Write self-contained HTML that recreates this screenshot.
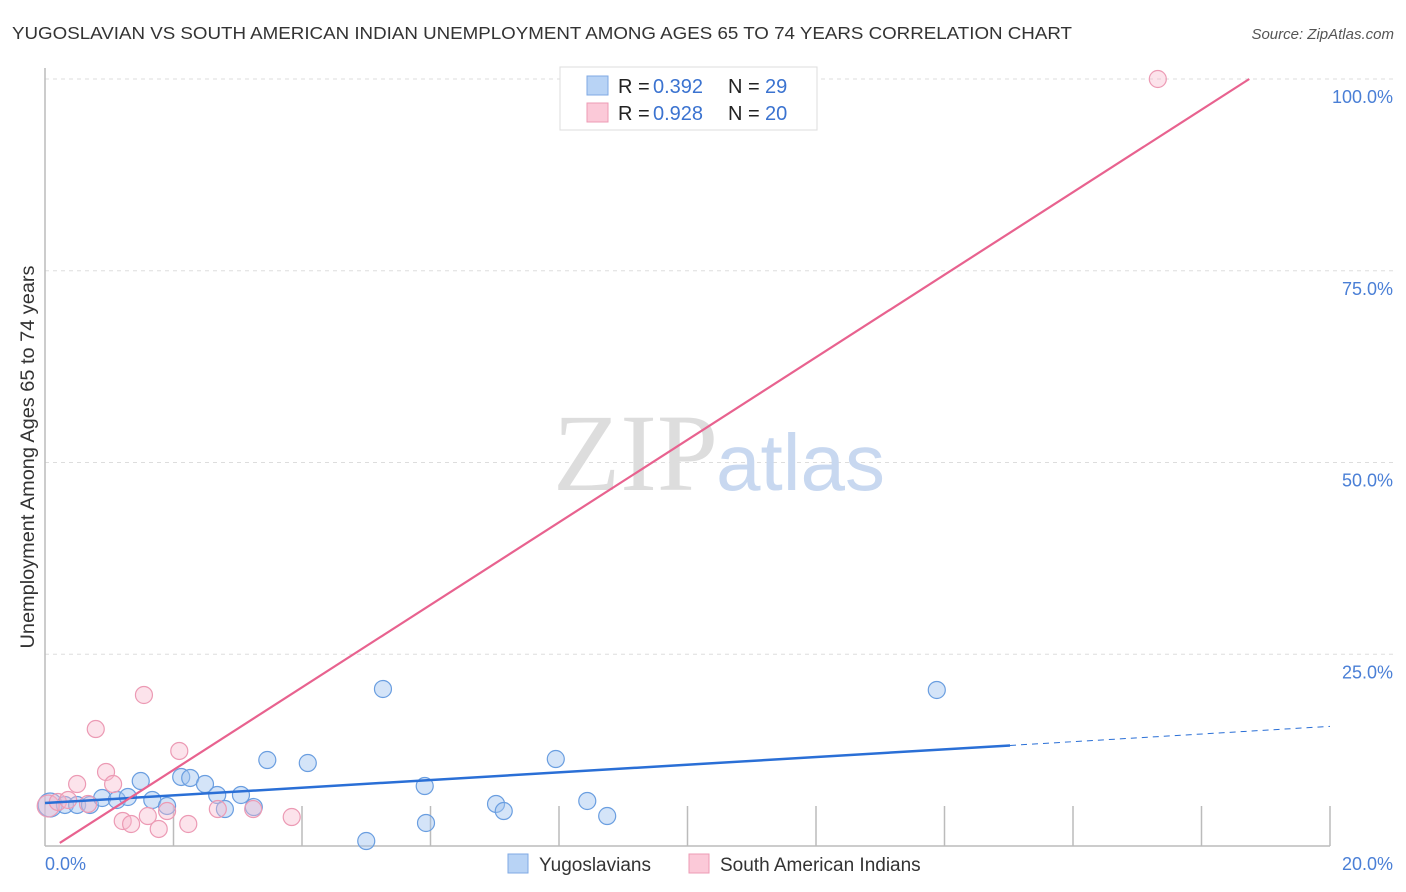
<!DOCTYPE html>
<html><head><meta charset="utf-8"><style>
body{margin:0;background:#fff;font-family:"Liberation Sans",sans-serif;}
svg{display:block}
</style></head><body>
<svg id="c" width="1406" height="892" xmlns="http://www.w3.org/2000/svg">
<text x="12" y="39" font-size="17.5" fill="#333" textLength="1060" lengthAdjust="spacingAndGlyphs">YUGOSLAVIAN VS SOUTH AMERICAN INDIAN UNEMPLOYMENT AMONG AGES 65 TO 74 YEARS CORRELATION CHART</text>
<text x="1394" y="39" font-size="15" fill="#555" font-style="italic" text-anchor="end">Source: ZipAtlas.com</text>
<g id="grid"></g>
<g>
<text x="553" y="490" font-family="Liberation Serif,serif" font-size="110" fill="#ddd">ZIP</text>
<text x="716" y="490" font-size="80" fill="#c8d8f0">atlas</text></g>
<text transform="translate(34,457) rotate(-90)" font-size="19" fill="#333" text-anchor="middle" textLength="383" lengthAdjust="spacingAndGlyphs">Unemployment Among Ages 65 to 74 years</text>
<g id="marks"></g>
<g>
<rect x="560" y="67" width="257" height="63" fill="#fff" stroke="#ddd"/>
<rect x="587" y="76" width="21" height="19" fill="#b8d3f5" stroke="#7fa9e4"/>
<rect x="587" y="103" width="21" height="19" fill="#fbc9d8" stroke="#ee9bb5"/>
<text x="618" y="93" font-size="20" fill="#222">R =</text><text x="653" y="93" font-size="20" fill="#3b73d0">0.392</text>
<text x="728" y="93" font-size="20" fill="#222">N =</text><text x="765" y="93" font-size="20" fill="#3b73d0">29</text>
<text x="618" y="120" font-size="20" fill="#222">R =</text><text x="653" y="120" font-size="20" fill="#3b73d0">0.928</text>
<text x="728" y="120" font-size="20" fill="#222">N =</text><text x="765" y="120" font-size="20" fill="#3b73d0">20</text>
</g>
<g>
<rect x="508" y="854" width="20" height="19" fill="#b8d3f5" stroke="#7fa9e4"/>
<text x="539" y="871" font-size="19" fill="#333">Yugoslavians</text>
<rect x="689" y="854" width="20" height="19" fill="#fbc9d8" stroke="#ee9bb5"/>
<text x="720" y="871" font-size="19" fill="#333">South American Indians</text>
</g>
</svg>
<script>
const yTicks=[25,50,75,100];
const yTickLabels=["25.0%","50.0%","75.0%","100.0%"];
const xLabels=["0.0%","20.0%"];
const blueX=[0.08,0.31,0.50,0.70,0.89,1.12,1.29,1.49,1.67,1.90,2.12,2.26,2.49,2.68,2.80,3.05,3.25,3.46,4.09,5.0,5.26,5.91,5.93,7.02,7.14,7.95,8.44,8.75,13.88];
const blueY=[5.35,5.35,5.35,5.35,6.26,6.0,6.39,8.47,6.0,5.22,9.0,8.87,8.08,6.65,4.82,6.65,5.08,11.21,10.82,0.65,20.47,7.82,3.0,5.48,4.56,11.34,5.87,3.91,20.34];
const pinkX=[0.05,0.20,0.36,0.50,0.67,0.79,0.95,1.06,1.21,1.34,1.54,1.60,1.77,1.90,2.09,2.23,2.69,3.24,3.84,17.32];
const pinkY=[5.22,5.74,6.0,8.08,5.48,15.25,9.65,8.08,3.26,2.87,19.69,3.91,2.22,4.56,12.39,2.87,4.82,4.82,3.78,100];
const blueTrend=[5.6,0.5]; // intercept, slope
const pinkTrend=[-0.84,5.38];
const NS="http://www.w3.org/2000/svg";
const X=v=>45+v*64.25, Y=v=>846-v*7.67;
function mk(t,a,p){const e=document.createElementNS(NS,t);for(const k in a)e.setAttribute(k,a[k]);(p||document.getElementById('marks')).appendChild(e);return e;}
const g=document.getElementById('grid');
yTicks.forEach((t,i)=>{
 const l=mk('line',{x1:45,x2:1394,y1:Y(t),y2:Y(t),stroke:'#ddd','stroke-dasharray':'4,4'},g);
 
 
 const tx=mk('text',{x:1393,y:Y(t)+24,'font-size':18,fill:'#4a7fd6','text-anchor':'end'},g);
 tx.textContent=yTickLabels[i];
 
 
});
for(let i=1;i<=10;i++){const t=mk('line',{x1:X(i*2),x2:X(i*2),y1:806,y2:846,stroke:'#bbb','stroke-width':1.5},g);
 
 }
mk('line',{x1:45,x2:1330,y1:846,y2:846,stroke:'#bbb','stroke-width':1.5},g);
mk('line',{x1:45,x2:45,y1:68,y2:846,stroke:'#bbb','stroke-width':1.5},g);
[[0,'start',45],[20,'end',1393]].forEach((d,i)=>{const t=mk('text',{x:d[2],y:870,'font-size':18,fill:'#4a7fd6','text-anchor':d[1]},g);t.textContent=xLabels[i];
 
 });
blueX.forEach((x,i)=>{const r=i==0?12:8.5;const c=mk('circle',{cx:X(x),cy:Y(blueY[i]),r:r,fill:'rgba(160,195,240,0.45)',stroke:'#6a9ee0','stroke-width':1.2});
 
 });
pinkX.forEach((x,i)=>{const r=i==0?11:8.5;const c=mk('circle',{cx:X(x),cy:Y(pinkY[i]),r:r,fill:'rgba(248,185,205,0.4)',stroke:'#ec9ab4','stroke-width':1.2});
 
 });
const bl=mk('line',{x1:X(0),y1:Y(blueTrend[0]),x2:X(15.02),y2:Y(blueTrend[0]+blueTrend[1]*15.02),stroke:'#2a6fd6','stroke-width':2.5});


const bd=mk('line',{x1:X(15.02),y1:Y(blueTrend[0]+blueTrend[1]*15.02),x2:X(20),y2:Y(blueTrend[0]+blueTrend[1]*20),stroke:'#2a6fd6','stroke-width':1,'stroke-dasharray':'6,5'});


const x0=0.23, x1=(100-pinkTrend[0])/pinkTrend[1];
const pl=mk('line',{x1:X(x0),y1:Y(pinkTrend[0]+pinkTrend[1]*x0),x2:X(x1),y2:Y(100),stroke:'#e8628f','stroke-width':2.2});


</script>
</body></html>
